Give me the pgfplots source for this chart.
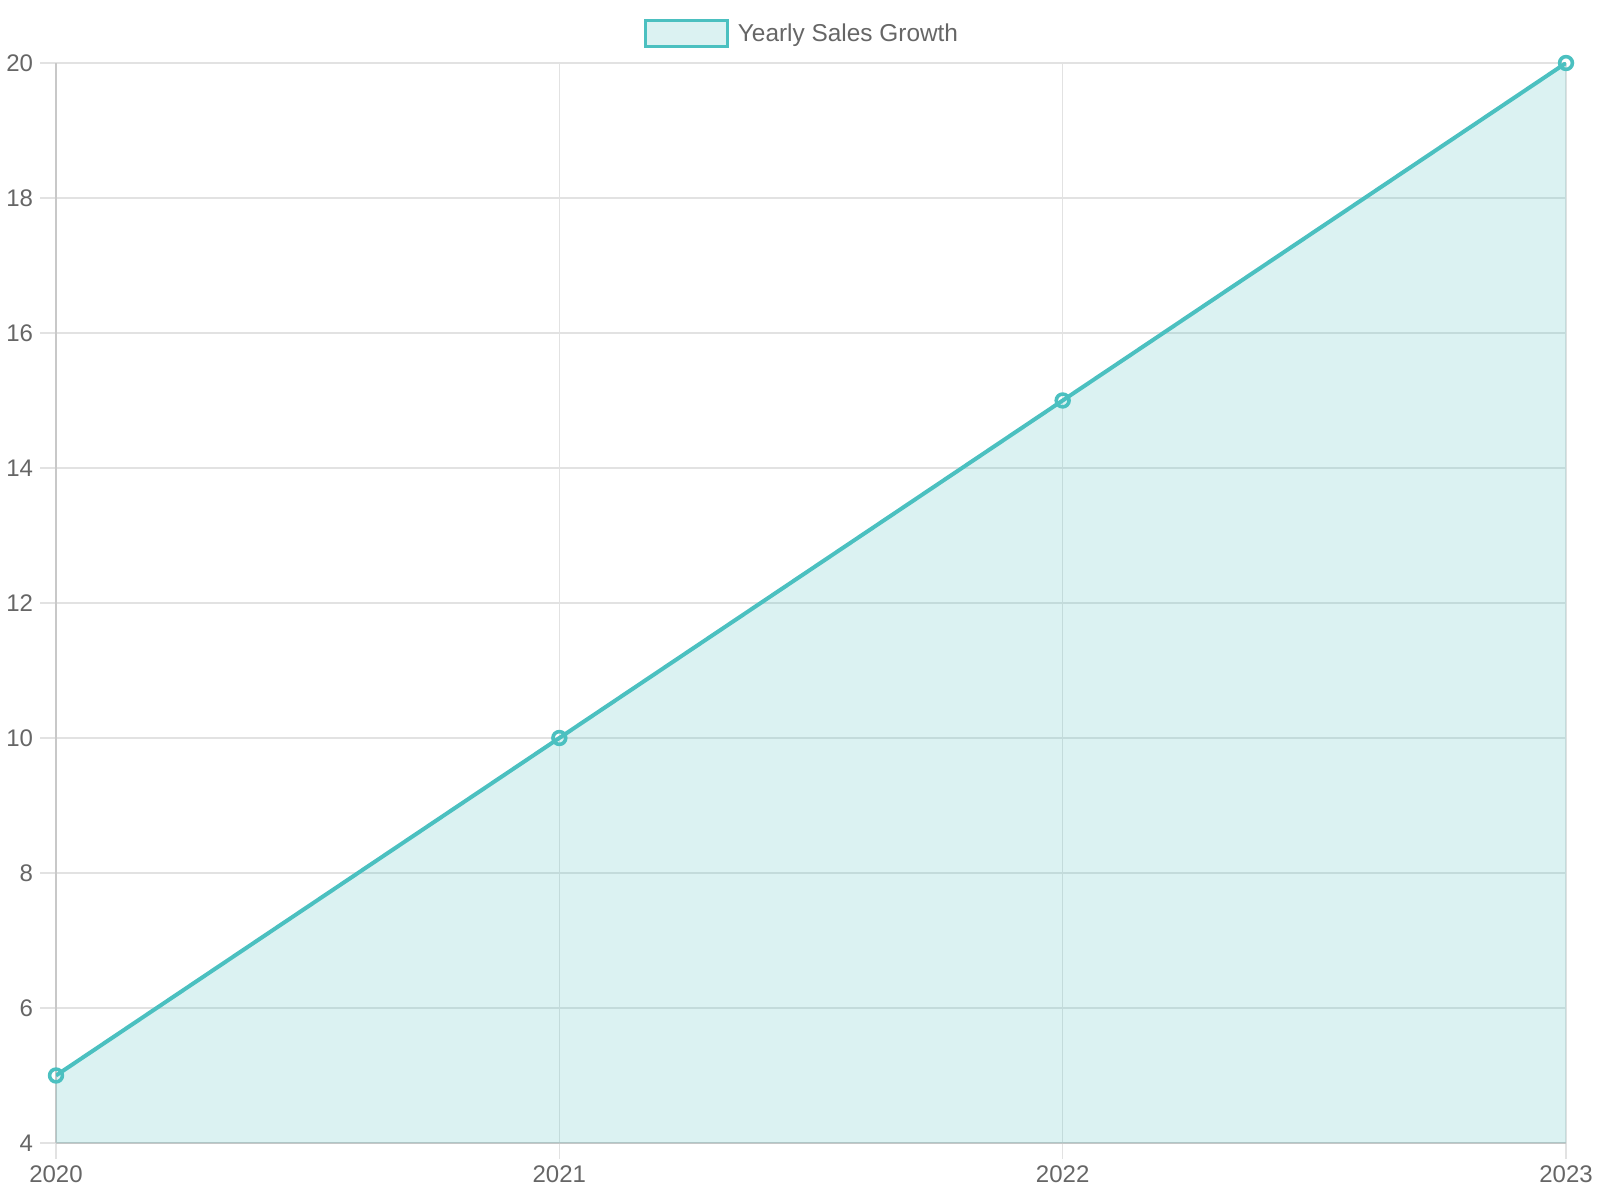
\documentclass[border=0pt]{standalone}
\usepackage{fontspec}
\setmainfont{Liberation Sans}
\usepackage{pgfplots}
\pgfplotsset{compat=1.18}

\definecolor{teal}{RGB}{75,192,192}
\definecolor{labelgray}{RGB}{102,102,102}
\definecolor{gridgray}{RGB}{226,226,226}
\definecolor{axisgray}{RGB}{200,200,200}

\begin{document}
\begin{tikzpicture}
\useasboundingbox (-28pt,-28.5pt) rectangle (772pt,571.5pt);
\begin{axis}[
    at={(0,0)}, anchor=south west,
    scale only axis, width=755pt, height=540pt,
    xmin=2020, xmax=2023, ymin=4, ymax=20,
    xtick={2020,2021,2022,2023},
    ytick={4,6,...,20},
    /pgf/number format/assume math mode=true,
    xticklabel style={/pgf/number format/1000 sep={}},
    tick label style={font=\fontsize{12}{14}\selectfont, text=labelgray},
    axis lines=left,
    axis line style={-, axisgray, line width=0.6pt},
    grid=major,
    grid style={gridgray, line width=0.6pt},
    tick align=outside,
    major tick length=8pt,
    tick style={gridgray, line width=0.6pt},
    clip mode=individual,
    legend style={at={(0.5,1)}, anchor=center, yshift=14.5pt, xshift=-4pt,
        draw=none, fill=none, text=labelgray,
        font=\fontsize{12.2}{14}\selectfont,
        /tikz/every odd column/.append style={column sep=2.5pt}},
    legend image code/.code={
        \draw[draw=teal, fill=teal!20!white, line width=1.5pt]
            (0pt,-6.5pt) rectangle (41pt,6.5pt);},
]
\addplot[draw=none, fill=teal, fill opacity=0.2, forget plot]
    coordinates {(2020,5) (2021,10) (2022,15) (2023,20)} \closedcycle;
\addplot[teal, line width=2pt, mark=o, mark size=3.2pt,
    mark options={fill=teal!15!white, line width=1.8pt}]
    coordinates {(2020,5) (2021,10) (2022,15) (2023,20)};
\addlegendentry{Yearly Sales Growth}
\end{axis}
\end{tikzpicture}
\end{document}
